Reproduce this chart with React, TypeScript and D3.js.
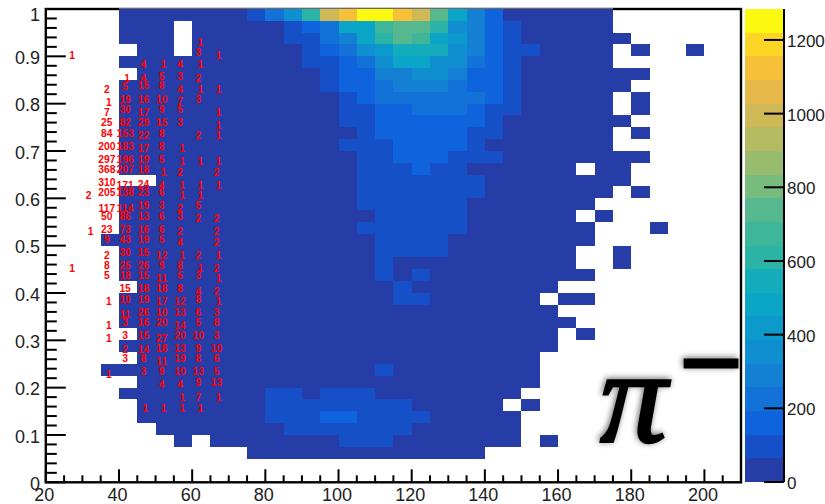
import React from "react";
import * as d3 from "d3";

const xBinWidth = 5;
const xBinStart = 20;
const yBinCount = 40;

const palette = [
  "#263ca6", "#1550c9", "#0f63dc", "#1272d8", "#1480d4", "#0f8ed0", "#0c99cc", "#0ba5c8", "#14acbb", "#2bb3a6",
  "#3db69a", "#55b88e", "#77bc7c", "#97bc6d", "#b5bb60", "#cfb856", "#e6b84a", "#f6c038", "#fdd525", "#fbf90f",
];
const zMax = 1284;
const zTicks = [0, 200, 400, 600, 800, 1000, 1200];
const xTicks = [20, 40, 60, 80, 100, 120, 140, 160, 180, 200];
const yTicks = [0, 0.1, 0.2, 0.3, 0.4, 0.5, 0.6, 0.7, 0.8, 0.9, 1];

// each row, from the top of the frame: [number of bins, count in those bins, ...]
const heatRuns: number[][] = [
  [4,0,7,20,1,95,1,225,1,350,1,610,1,990,1,1120,2,1250,1,1120,1,990,1,740,1,480,1,290,1,160,6,20,7,0],
  [4,0,3,20,1,0,5,20,1,95,1,160,1,250,2,480,1,675,2,740,1,610,1,350,1,290,1,160,1,95,5,20,7,0],
  [4,0,3,20,1,0,5,20,2,95,1,225,1,290,1,480,1,610,1,740,1,675,1,480,1,415,1,290,1,160,1,95,6,20,6,0],
  [4,0,1,0,2,20,1,0,6,20,1,95,1,160,1,225,1,350,1,415,3,545,1,350,1,290,1,160,2,95,4,20,1,0,1,20,2,0,1,20,2,0],
  [4,0,10,20,2,95,1,160,1,225,1,350,2,480,2,350,1,225,1,160,1,95,5,20,7,0],
  [4,0,1,0,10,20,1,95,2,160,2,290,2,350,1,290,2,160,1,95,7,20,5,0],
  [4,0,11,20,1,95,2,160,1,225,3,290,1,225,2,160,1,95,6,20,6,0],
  [4,0,12,20,1,95,1,160,6,225,1,160,1,95,5,20,1,0,1,20,5,0],
  [4,0,12,20,2,95,2,160,3,225,1,160,2,95,5,20,1,0,1,20,5,0],
  [4,0,12,20,2,95,6,160,1,95,7,20,6,0],
  [4,0,13,20,1,95,5,160,2,95,6,20,1,0,1,20,5,0],
  [4,0,12,20,3,95,4,160,1,95,7,20,7,0],
  [4,0,13,20,2,95,3,160,3,95,8,20,5,0],
  [4,0,13,20,3,95,1,160,2,95,6,20,1,0,2,20,6,0],
  [4,0,2,0,11,20,7,95,8,20,6,0],
  [4,0,13,20,7,95,7,20,1,0,1,20,5,0],
  [4,0,13,20,6,95,7,20,8,0],
  [4,0,14,20,5,95,6,20,1,0,1,20,7,0],
  [4,0,13,20,6,95,7,20,3,0,1,20,4,0],
  [3,0,15,20,4,95,8,20,8,0],
  [4,0,14,20,4,95,7,20,2,0,1,20,6,0],
  [4,0,14,20,1,95,10,20,2,0,1,20,6,0],
  [4,0,14,20,1,95,1,20,1,95,9,20,8,0],
  [4,0,1,0,14,20,1,95,8,20,10,0],
  [4,0,15,20,2,95,6,20,1,0,2,20,8,0],
  [4,0,24,20,10,0],
  [4,0,25,20,9,0],
  [4,0,1,0,23,20,1,0,1,20,8,0],
  [4,0,24,20,10,0],
  [4,0,1,0,22,20,11,0],
  [3,0,15,20,1,95,8,20,11,0],
  [4,0,1,0,22,20,11,0],
  [4,0,8,20,2,95,1,20,3,95,8,20,12,0],
  [4,0,1,0,7,20,8,95,5,20,1,0,1,20,11,0],
  [4,0,1,0,7,20,3,95,2,160,4,95,5,20,12,0],
  [4,0,2,0,7,20,7,95,6,20,12,0],
  [4,0,3,0,1,20,1,0,7,20,3,95,7,20,1,0,1,20,10,0],
  [4,0,7,0,13,20,14,0],
  [38,0],
  [38,0],
];

// printed bin contents per x bin: [count, y]
const text27: number[][] = [[1,.903],[1,.452]];
const text32: number[][] = [[2,.606],[1,.531]];
const text37: number[][] = [[2,.831],[1,.803],[7,.782],[25,.761],[84,.738],[200,.710],[297,.683],[368,.662],[310,.634],[205,.613],[117,.579],[50,.562],[23,.535],[9,.514],[2,.480],[8,.459],[5,.438],[1,.382],[1,.331],[1,.304],[1,.228]];
const text42: number[][] = [[1,.854],[5,.836],[19,.810],[30,.788],[82,.761],[153,.738],[183,.710],[196,.683],[207,.662],[171,.627],[138,.613],[114,.579],[86,.562],[73,.535],[43,.514],[30,.485],[25,.459],[18,.438],[15,.409],[10,.387],[11,.354],[3,.338],[3,.311],[2,.280],[3,.262]];
const text47: number[][] = [[4,.882],[4,.854],[15,.838],[16,.810],[17,.782],[29,.761],[22,.734],[17,.706],[19,.683],[18,.662],[24,.629],[23,.613],[19,.586],[13,.562],[16,.535],[19,.514],[15,.485],[26,.459],[15,.438],[18,.409],[19,.387],[26,.359],[16,.338],[15,.311],[14,.280],[8,.262],[3,.235],[1,.156]];
const text52: number[][] = [[1,.882],[5,.858],[8,.838],[10,.810],[9,.788],[15,.761],[8,.738],[8,.710],[5,.683],[1,.655],[4,.627],[6,.613],[3,.586],[6,.562],[6,.535],[5,.514],[12,.480],[9,.459],[11,.431],[18,.409],[17,.382],[10,.359],[20,.338],[27,.304],[18,.283],[11,.256],[9,.235],[4,.207],[1,.156]];
const text57: number[][] = [[4,.882],[3,.858],[4,.831],[7,.804],[5,.788],[3,.761],[1,.706],[1,.679],[2,.655],[1,.627],[1,.607],[2,.579],[3,.562],[2,.531],[4,.507],[1,.480],[8,.459],[5,.438],[8,.409],[12,.382],[13,.359],[14,.331],[20,.311],[13,.283],[19,.262],[10,.235],[4,.207],[1,.180],[1,.156]];
const text62: number[][] = [[1,.930],[3,.909],[1,.882],[2,.854],[1,.831],[3,.810],[2,.734],[1,.679],[1,.627],[1,.607],[5,.586],[2,.558],[2,.480],[1,.452],[3,.438],[4,.404],[8,.387],[6,.359],[5,.338],[10,.311],[9,.283],[8,.262],[13,.235],[9,.211],[7,.180],[1,.156]];
const text67: number[][] = [[1,.903],[1,.831],[1,.782],[1,.755],[1,.734],[1,.679],[2,.655],[1,.627],[2,.558],[2,.531],[2,.507],[1,.480],[2,.452],[1,.431],[2,.404],[1,.382],[3,.359],[8,.338],[3,.311],[10,.283],[6,.262],[5,.235],[13,.211],[1,.180]];
const textColumns: [number, number[][]][] = [
  [27.5, text27], [32.5, text32], [37.5, text37], [42.5, text42], [47.5, text47],
  [52.5, text52], [57.5, text57], [62.5, text62], [67.5, text67],
];

const x = d3.scaleLinear().domain([20, 210]).range([45.8, 741]);
const y = d3.scaleLinear().domain([0, 1]).range([482.3, 9]);
const zAxis = d3.scaleLinear().domain([0, zMax]).range([482, 9]);
const colour = d3.scaleQuantize<string>().domain([0, zMax]).range(palette);
const sans = "'Liberation Sans', Arial, sans-serif";

const fmt = (v: number) => String(v);

export default function App() {
  const cells: React.ReactNode[] = [];
  heatRuns.forEach((runs, r) => {
    let c = 0;
    for (let i = 0; i < runs.length; i += 2) {
      const n = runs[i];
      const v = runs[i + 1];
      if (v > 0) {
        const hi = 1 - r / yBinCount;
        const lo = 1 - (r + 1) / yBinCount;
        cells.push(
          <rect
            key={`${r}-${c}`}
            x={x(xBinStart + c * xBinWidth)}
            width={x(xBinStart + (c + n) * xBinWidth) - x(xBinStart + c * xBinWidth)}
            y={y(hi)}
            height={y(lo) - y(hi)}
            fill={colour(v)}
            shapeRendering="crispEdges"
          />
        );
      }
      c += n;
    }
  });

  const yMinor = d3.range(0, 51).map((i) => i * 0.02);
  const xMinor = d3.range(20, 211, 5);

  return (
    <svg width={825} height={504} style={{ position: "absolute", left: 0, top: 0, background: "#fff" }}>
      <defs>
        <filter id="glow" x="-30%" y="-60%" width="160%" height="220%">
          <feDropShadow dx={-1} dy={-1} stdDeviation={3} floodColor="#000" floodOpacity={0.6} />
        </filter>
      </defs>

      {/* frame */}
      <rect x={x(20)} y={y(1)} width={x(210) - x(20)} height={y(0) - y(1)} fill="#fff" stroke="#000" strokeWidth={2.4} />

      {/* ticks */}
      {yMinor.map((t, i) => (
        <line key={i} x1={x(20)} x2={x(20) + (i % 5 === 0 ? 20 : 11)} y1={y(t)} y2={y(t)} stroke="#000" strokeWidth={2} />
      ))}
      {xMinor.map((t, i) => (
        <line key={i} x1={x(t)} x2={x(t)} y1={y(0)} y2={y(0) - (i % 4 === 0 ? 13 : 7)} stroke="#000" strokeWidth={2} />
      ))}

      {cells}
      <line x1={x(40)} x2={x(175)} y1={8.5} y2={8.5} stroke="#6a6a6a" strokeWidth={1} />

      {/* printed counts */}
      <g fontFamily={sans} fontWeight="bold" fontSize={10.3} fill="#f00" textAnchor="middle">
        {textColumns.map(([cx, items]) =>
          items.map(([n, v], i) => (
            <text key={`${cx}-${i}`} x={x(cx) + (n === 1 ? -1 : -3)} y={y(v)} dy="0.35em">
              {n}
            </text>
          ))
        )}
      </g>

      {/* axis labels */}
      <g fontFamily={sans} fontSize={18} fill="#222">
        {yTicks.map((t) => (
          <text key={t} x={40} y={y(t) + (t === 1 ? 5.5 : 1.5)} dy="0.35em" textAnchor="end">
            {fmt(t)}
          </text>
        ))}
        {xTicks.map((t) => (
          <text key={t} x={x(t) - 1.5} y={500.5} textAnchor="middle">
            {t}
          </text>
        ))}
      </g>

      {/* colour bar */}
      {palette.map((c, i) => {
        const lo = (i * zMax) / palette.length;
        const hi = ((i + 1) * zMax) / palette.length;
        return (
          <rect key={c} x={745} width={39} y={zAxis(hi)} height={zAxis(lo) - zAxis(hi)} fill={c} shapeRendering="crispEdges" />
        );
      })}
      <line x1={784} x2={784} y1={9} y2={482} stroke="#000" strokeWidth={2} />
      {zTicks.map((t) => (
        <g key={t}>
          <line x1={764} x2={784} y1={zAxis(t)} y2={zAxis(t)} stroke="#000" strokeWidth={2} />
          <text x={787} y={zAxis(t) + 1} dy="0.35em" fontFamily={sans} fontSize={17} fill="#222">
            {t}
          </text>
        </g>
      ))}

      {/* particle label */}
      <g filter="url(#glow)" fill="#000" stroke="#000" fontFamily="'Liberation Serif', serif">
        <text x={600} y={442} fontSize={134} fontStyle="italic" strokeWidth={2.5}>π</text>
        <text x={681} y={397} fontSize={100} strokeWidth={5} textLength={60} lengthAdjust="spacingAndGlyphs">−</text>
      </g>
    </svg>
  );
}
